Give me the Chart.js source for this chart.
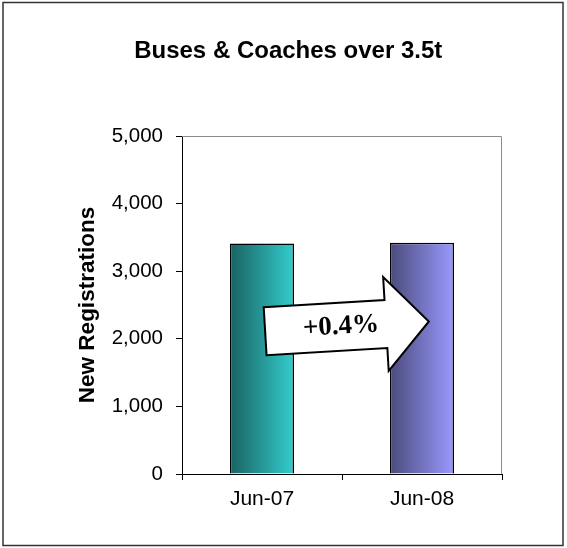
<!DOCTYPE html>
<html>
<head>
<meta charset="utf-8">
<script src="https://cdn.jsdelivr.net/npm/chart.js@4.4.1/dist/chart.umd.min.js"></script>
<style>
    html, body { margin: 0; padding: 0; background: #fff; }
    #wrap { width: 567px; height: 548px; position: relative; }
</style>
</head>
<body>
<div id="wrap"><canvas id="busChart"></canvas></div>
<script>
const months = ['Jun-07', 'Jun-08'];
const registrations = [3408, 3420];
const changeLabel = '+0.4%';
const yTicks = [0, 1000, 2000, 3000, 4000, 5000];

// left / right colour of each bar's horizontal gradient
const barShades = [
    ['#1b6262', '#33cccc'],
    ['#4b4b7c', '#9999ff']
];

function barFill(ctx) {
    const chart = ctx.chart;
    const x = chart.scales.x;
    if (!x || !chart.chartArea || ctx.dataIndex === undefined) return barShades[0][1];
    const half = x.width / months.length * 0.4 / 2;
    const cx = x.getPixelForValue(ctx.dataIndex);
    const g = chart.ctx.createLinearGradient(cx - half, 0, cx + half, 0);
    g.addColorStop(0, barShades[ctx.dataIndex][0]);
    g.addColorStop(1, barShades[ctx.dataIndex][1]);
    return g;
}

const frame = {
    id: 'frame',
    beforeDraw(chart) {
        const c = chart.ctx;
        c.save();
        c.strokeStyle = '#333';
        c.lineWidth = 1.5;
        c.strokeRect(3, 2.5, 560, 543);
        c.restore();
    },
    afterDraw(chart) {
        const c = chart.ctx;
        const a = chart.chartArea;
        c.save();
        c.strokeStyle = '#8c8c8c';
        c.lineWidth = 1;
        c.beginPath();
        c.moveTo(a.left, a.top + 0.5);
        c.lineTo(a.right - 0.5, a.top + 0.5);
        c.lineTo(a.right - 0.5, a.bottom);
        c.stroke();
        c.restore();
    }
};

const changeArrow = {
    id: 'changeArrow',
    afterDatasetsDraw(chart) {
        const c = chart.ctx;
        const cx = chart.scales.x.getPixelForValue(0.5);
        const cy = chart.scales.y.getPixelForValue(2180);
        c.save();
        c.translate(cx, cy);
        c.rotate(-3.4 * Math.PI / 180);
        c.beginPath();
        c.moveTo(-77, -24);
        c.lineTo(44, -24);
        c.lineTo(44, -47);
        c.lineTo(87, 0);
        c.lineTo(44, 47);
        c.lineTo(44, 24);
        c.lineTo(-77, 24);
        c.closePath();
        c.fillStyle = '#fff';
        c.fill();
        c.lineWidth = 2;
        c.strokeStyle = '#000';
        c.lineJoin = 'miter';
        c.stroke();
        c.fillStyle = '#000';
        c.font = 'bold 27px "Liberation Serif", "Times New Roman", serif';
        c.textAlign = 'center';
        c.textBaseline = 'middle';
        c.fillText(changeLabel, -1, 0);
        c.restore();
    }
};

new Chart(document.getElementById('busChart'), {
    type: 'bar',
    data: {
        labels: months,
        datasets: [{
            data: registrations,
            backgroundColor: barFill,
            borderColor: '#000',
            borderWidth: 1.5,
            barPercentage: 0.4,
            categoryPercentage: 1
        }]
    },
    options: {
        responsive: true,
        maintainAspectRatio: false,
        animation: false,
        layout: { padding: { left: 74.5, right: 65, top: 0, bottom: 34 } },
        plugins: {
            legend: { display: false },
            tooltip: { enabled: false },
            title: {
                display: true,
                text: 'Buses & Coaches over 3.5t',
                color: '#000',
                font: { family: 'Arial, "Liberation Sans", sans-serif', size: 24, weight: 'bold' },
                padding: { top: 36.6, bottom: 70.6 }
            }
        },
        scales: {
            x: {
                grid: { drawOnChartArea: false, drawTicks: true, tickLength: 6, tickColor: '#000', offset: true },
                border: { display: true, color: '#000', width: 1 },
                ticks: {
                    color: '#000',
                    padding: 7,
                    font: { family: 'Arial, "Liberation Sans", sans-serif', size: 21 }
                },
                afterFit(scale) { scale.height = 40; }
            },
            y: {
                min: 0,
                max: 5000,
                afterBuildTicks(scale) { scale.ticks = yTicks.map(v => ({ value: v })); },
                grid: { drawOnChartArea: false, drawTicks: true, tickLength: 6, tickColor: '#000' },
                border: { display: true, color: '#000', width: 1 },
                ticks: {
                    color: '#000',
                    padding: 13,
                    font: { family: 'Arial, "Liberation Sans", sans-serif', size: 20.5 },
                    callback: v => v.toLocaleString('en-US')
                },
                title: {
                    display: true,
                    text: 'New Registrations',
                    color: '#000',
                    padding: 0,
                    font: { family: 'Arial, "Liberation Sans", sans-serif', size: 22.5, weight: 'bold' }
                },
                afterFit(scale) { scale.width = 107.5; }
            }
        }
    },
    plugins: [frame, changeArrow]
});
</script>
</body>
</html>
